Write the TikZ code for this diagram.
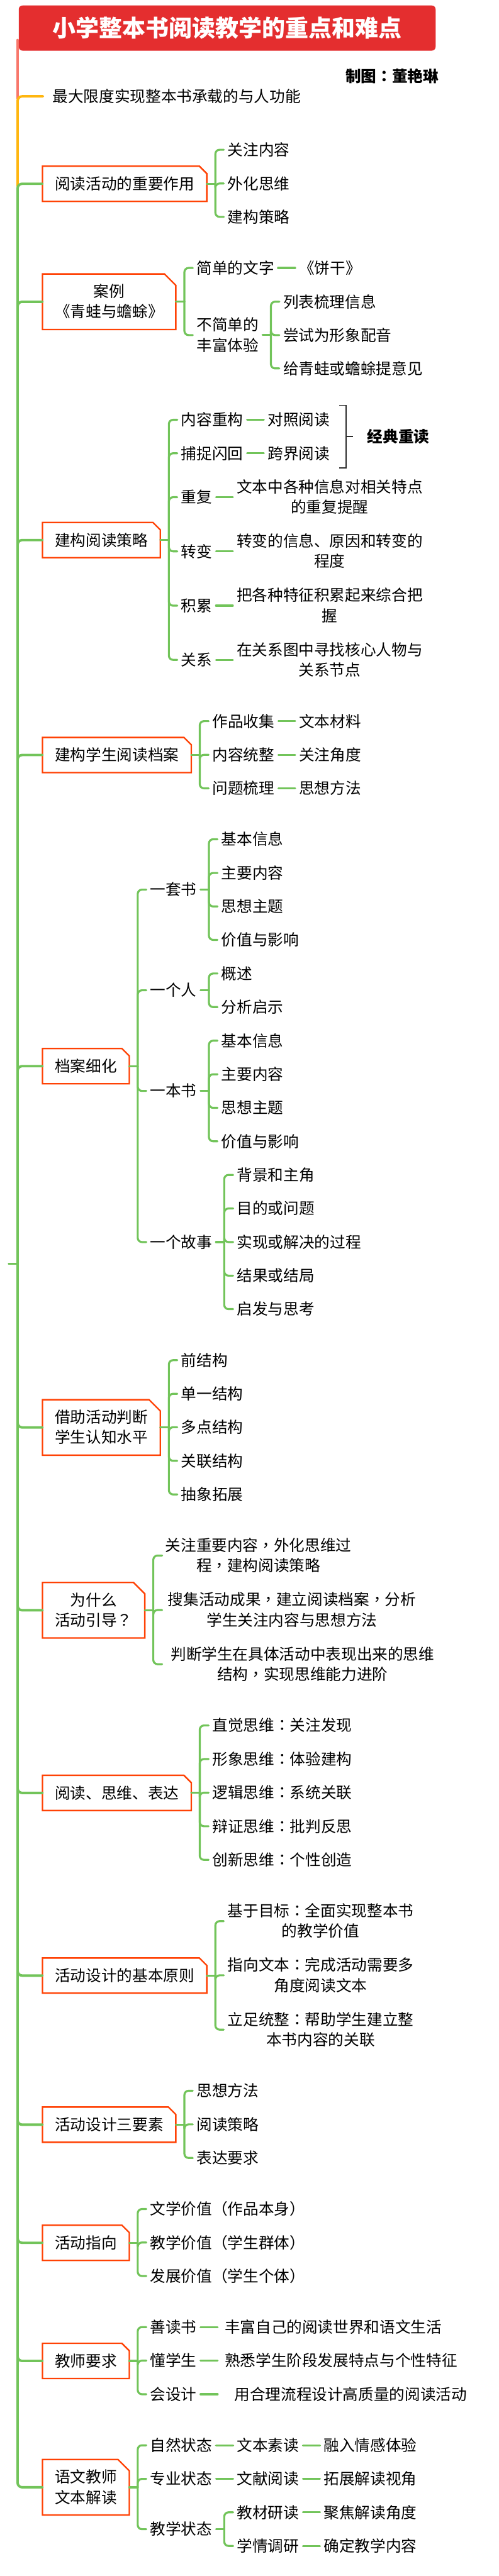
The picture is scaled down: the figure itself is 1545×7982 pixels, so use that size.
\documentclass[tikz,border=0pt]{standalone}
\usepackage{fontspec}
\setmainfont{Noto Sans CJK SC}
\newfontfamily\tcf{Noto Sans CJK TC}
\newcommand\zcolon{{\tcf ^^^^ff1a}}
\newcommand\zcomma{{\tcf ^^^^ff0c}}
\newcommand\zquery{{\tcf ^^^^ff1f}}
\newcommand\zlpar{{\tcf ^^^^ff08}}
\newcommand\zrpar{{\tcf ^^^^ff09}}
\definecolor{salmonline}{HTML}{F8776B}
\definecolor{yellowline}{HTML}{FFB60F}
\definecolor{greenline}{HTML}{72C45A}
\definecolor{boxred}{HTML}{FF4205}
\definecolor{titlered}{HTML}{E42E2F}
\definecolor{sumdark}{HTML}{2D2D2D}
\tikzset{
  centerstrut/.style={execute at begin node={\rule{0pt}{.875em}},execute at end node={\rule[-.115em]{0pt}{.115em}}},
  tn/.style={anchor=west,inner xsep=12pt,inner ysep=0pt,outer sep=0pt,align=center,
    font=\fontsize{48}{63}\selectfont,centerstrut},
  bn/.style={anchor=west,inner sep=0pt,outer sep=0pt,align=center,
    font=\fontsize{48}{63}\selectfont,centerstrut},
  boldtext/.style={inner sep=0pt,outer sep=0pt,align=center,
    font=\bfseries\fontsize{48}{63}\selectfont,centerstrut},
  boxline/.style={draw=boxred,line width=4.6pt,line join=miter},
  trunkline/.style={line width=7.6pt,line cap=round,rounded corners=14pt},
  kidline/.style={draw=greenline,line width=6.2pt,line cap=round,rounded corners=13pt},
  sumline/.style={draw=sumdark,line width=3pt,line join=miter}
}
\newcommand\cutbox[2]{\draw[boxline] (#1.north west) -- ([xshift=-#2pt]#1.north east) -- ([yshift=-#2pt]#1.north east) -- (#1.south east) -- (#1.south west) -- cycle;}
\newcommand\forkto[3]{%
  \coordinate (#2-fork) at (#1,0 |- #2.east);
  \draw[kidline,sharp corners] (#2.east) -- (#2-fork);
  \foreach \kidn in {#3}{\draw[kidline] (#2-fork) |- (\kidn.west);}
}
\newcommand\link[2]{\draw[kidline] (#1.east) -- (#2.west);}
\begin{document}
\begin{tikzpicture}[x=1pt,y=-1pt]
\fill[white] (0,0) rectangle (1545,7982);
\useasboundingbox (0,0) rectangle (1545,7982);

% --- title
\coordinate (t0) at (54.5,124);
\coordinate (t1) at (54.5,305);
\coordinate (y0) at (54.5,577);
\coordinate (hub) at (54.5,3916);
\coordinate (stub) at (28,3916);
\draw[trunkline,draw=salmonline] (t0) -- (t1);
\node[fill=titlered,rounded corners=12pt,minimum width=1291pt,minimum height=140pt,inner sep=0pt,outer sep=0pt,
  text=white,font=\bfseries\fontsize{72}{80}\selectfont,centerstrut] (root) at (703.5,87) {小学整本书阅读教学的重点和难点};
\node[boldtext] (credit) at (1214.5,236.5) {制图\zcolon{}董艳琳};

\node[tn,inner xsep=30pt] (a) at (133,298.5) {最大限度实现整本书承载的与人功能};
\draw[trunkline,draw=yellowline] (y0) |- (a.west);

% --- boxes
\node[bn,minimum width=509pt,minimum height=109pt] (b1) at (131.5,569.5) {阅读活动的重要作用};
\node[bn,minimum width=413pt,minimum height=172pt] (b2) at (131.5,935) {案例\\《青蛙与蟾蜍》};
\node[bn,minimum width=365pt,minimum height=109pt] (b3) at (131.5,1673.5) {建构阅读策略};
\node[bn,minimum width=461pt,minimum height=109pt] (b4) at (131.5,2339.5) {建构学生阅读档案};
\node[bn,minimum width=269pt,minimum height=109pt] (b5) at (131.5,3303.5) {档案细化};
\node[bn,minimum width=365pt,minimum height=172pt] (b6) at (131.5,4423) {借助活动判断\\学生认知水平};
\node[bn,minimum width=317pt,minimum height=172pt] (b7) at (131.5,4989.5) {为什么\\活动引导\zquery{}};
\node[bn,minimum width=461pt,minimum height=109pt] (b8) at (131.5,5555.5) {阅读、思维、表达};
\node[bn,minimum width=509pt,minimum height=109pt] (b9) at (131.5,6121.5) {活动设计的基本原则};
\node[bn,minimum width=413pt,minimum height=109pt] (b10) at (131.5,6583.5) {活动设计三要素};
\node[bn,minimum width=269pt,minimum height=109pt] (b11) at (131.5,6949.5) {活动指向};
\node[bn,minimum width=269pt,minimum height=109pt] (b12) at (131.5,7315.5) {教师要求};
\node[bn,minimum width=269pt,minimum height=172pt] (b13) at (131.5,7707) {语文教师\\文本解读};
\cutbox{b1}{23}\cutbox{b2}{35}\cutbox{b3}{23}\cutbox{b4}{23}\cutbox{b5}{23}\cutbox{b6}{35}\cutbox{b7}{35}
\cutbox{b8}{23}\cutbox{b9}{23}\cutbox{b10}{23}\cutbox{b11}{23}\cutbox{b12}{23}\cutbox{b13}{35}

% --- main trunk
\foreach \bx in {b1,b2,b3,b4,b5,b6,b7,b8,b9,b10,b11,b12,b13}{\draw[trunkline,draw=greenline] (hub) |- (\bx.west);}
\draw[trunkline,draw=greenline] (stub) -- (hub);

% --- b1
\node[tn] (k11) at (693,464) {关注内容};
\node[tn] (k12) at (693,568.6) {外化思维};
\node[tn] (k13) at (693,672) {建构策略};
\forkto{667}{b1}{k11,k12,k13}

% --- b2
\node[tn] (k21) at (597,830.3) {简单的文字};
\node[tn] (k21r) at (914,830.3) {《饼干》};
\link{k21}{k21r}
\node[tn] (k22) at (597,1038.4) {不简单的\\丰富体验};
\forkto{571}{b2}{k21,k22}
\node[tn] (k221) at (865,934.8) {列表梳理信息};
\node[tn] (k222) at (865,1038.4) {尝试为形象配音};
\node[tn] (k223) at (865,1141.6) {给青蛙或蟾蜍提意见};
\forkto{839}{k22}{k221,k222,k223}

% --- b3
\node[tn] (k31) at (549,1300.8) {内容重构};
\node[tn] (k31r) at (817,1300.8) {对照阅读};
\link{k31}{k31r}
\node[tn] (k32) at (549,1404.5) {捕捉闪回};
\node[tn] (k32r) at (817,1404.5) {跨界阅读};
\link{k32}{k32r}
\node[tn] (k33) at (549,1540.6) {重复};
\node[tn] (k33r) at (721,1540.6) {文本中各种信息对相关特点\\的重复提醒};
\link{k33}{k33r}
\node[tn] (k34) at (549,1708.4) {转变};
\node[tn] (k34r) at (721,1708.4) {转变的信息、原因和转变的\\程度};
\link{k34}{k34r}
\node[tn] (k35) at (549,1876.7) {积累};
\node[tn] (k35r) at (721,1876.7) {把各种特征积累起来综合把\\握};
\link{k35}{k35r}
\node[tn] (k36) at (549,2044.6) {关系};
\node[tn] (k36r) at (721,2044.6) {在关系图中寻找核心人物与\\关系节点};
\link{k36}{k36r}
\forkto{523}{b3}{k31,k32,k33,k34,k35,k36}
\coordinate (s0) at (1051,1256);
\coordinate (s1) at (1072,1256);
\coordinate (s2) at (1072,1449.5);
\coordinate (s3) at (1051,1449.5);
\coordinate (s4) at (1072,1352.4);
\node[boldtext,anchor=west,inner xsep=45pt] (sumtext) at (1093,1352.4) {经典重读};
\draw[sumline] (s0) -- (s1) -- (s2) -- (s3);
\draw[sumline] (s4) -- (sumtext.west);

% --- b4
\node[tn] (k41) at (646,2234.5) {作品收集};
\node[tn] (k41r) at (914,2234.5) {文本材料};
\link{k41}{k41r}
\node[tn] (k42) at (646,2339) {内容统整};
\node[tn] (k42r) at (914,2339) {关注角度};
\link{k42}{k42r}
\node[tn] (k43) at (646,2442.7) {问题梳理};
\node[tn] (k43r) at (914,2442.7) {思想方法};
\link{k43}{k43r}
\forkto{618.6}{b4}{k41,k42,k43}

% --- b5
\node[tn] (k51) at (453,2756.7) {一套书};
\node[tn] (k52) at (453,3068.5) {一个人};
\node[tn] (k53) at (453,3380.3) {一本书};
\node[tn] (k54) at (453,3848.6) {一个故事};
\forkto{426.5}{b5}{k51,k52,k53,k54}
\node[tn] (k511) at (673.5,2600.5) {基本信息};
\node[tn] (k512) at (673.5,2705) {主要内容};
\node[tn] (k513) at (673.5,2808.7) {思想主题};
\node[tn] (k514) at (673.5,2912.3) {价值与影响};
\forkto{647}{k51}{k511,k512,k513,k514}
\node[tn] (k521) at (673.5,3016.4) {概述};
\node[tn] (k522) at (673.5,3120.5) {分析启示};
\forkto{647}{k52}{k521,k522}
\node[tn] (k531) at (673.5,3224.6) {基本信息};
\node[tn] (k532) at (673.5,3328.7) {主要内容};
\node[tn] (k533) at (673.5,3432.8) {思想主题};
\node[tn] (k534) at (673.5,3536.4) {价值与影响};
\forkto{647}{k53}{k531,k532,k533,k534}
\node[tn] (k541) at (722,3640.5) {背景和主角};
\node[tn] (k542) at (722,3744.6) {目的或问题};
\node[tn] (k543) at (722,3848.6) {实现或解决的过程};
\node[tn] (k544) at (722,3952.7) {结果或结局};
\node[tn] (k545) at (722,4056.4) {启发与思考};
\forkto{694.5}{k54}{k541,k542,k543,k544,k545}

% --- b6
\node[tn] (k61) at (549,4214.6) {前结构};
\node[tn] (k62) at (549,4318.7) {单一结构};
\node[tn] (k63) at (549,4422.4) {多点结构};
\node[tn] (k64) at (549,4526.5) {关联结构};
\node[tn] (k65) at (549,4630.6) {抽象拓展};
\forkto{523}{b6}{k61,k62,k63,k64,k65}

% --- b7
\node[tn,inner xsep=10pt] (k71) at (502,4820) {关注重要内容\zcomma{}外化思维过\\程\zcomma{}建构阅读策略};
\node[tn,inner xsep=18pt] (k72) at (502,4988.8) {搜集活动成果\zcomma{}建立阅读档案\zcomma{}分析\\学生关注内容与思想方法};
\node[tn,inner xsep=27pt] (k73) at (502,5156.6) {判断学生在具体活动中表现出来的思维\\结构\zcomma{}实现思维能力进阶};
\forkto{474.8}{b7}{k71,k72,k73}

% --- b8
\node[tn] (k81) at (646,5346.5) {直觉思维\zcolon{}关注发现};
\node[tn] (k82) at (646,5450.6) {形象思维\zcolon{}体验建构};
\node[tn] (k83) at (646,5554.7) {逻辑思维\zcolon{}系统关联};
\node[tn] (k84) at (646,5658.8) {辩证思维\zcolon{}批判反思};
\node[tn] (k85) at (646,5762.9) {创新思维\zcolon{}个性创造};
\forkto{618.6}{b8}{k81,k82,k83,k84,k85}

% --- b9
\node[tn] (k91) at (693,5952.8) {基于目标\zcolon{}全面实现整本书\\的教学价值};
\node[tn] (k92) at (693,6120.7) {指向文本\zcolon{}完成活动需要多\\角度阅读文本};
\node[tn] (k93) at (693,6288.9) {立足统整\zcolon{}帮助学生建立整\\本书内容的关联};
\forkto{667}{b9}{k91,k92,k93}

% --- b10
\node[tn] (k101) at (597,6478.4) {思想方法};
\node[tn] (k102) at (597,6582.5) {阅读策略};
\node[tn] (k103) at (597,6686.6) {表达要求};
\forkto{571}{b10}{k101,k102,k103}

% --- b11
\node[tn] (k111) at (453,6844.9) {文学价值\zlpar{}作品本身\zrpar{}};
\node[tn] (k112) at (453,6948.6) {教学价值\zlpar{}学生群体\zrpar{}};
\node[tn] (k113) at (453,7052.4) {发展价值\zlpar{}学生个体\zrpar{}};
\forkto{426.5}{b11}{k111,k112,k113}

% --- b12
\node[tn] (k121) at (453,7210.6) {善读书};
\node[tn,inner xsep=22pt] (k121r) at (674,7210.6) {丰富自己的阅读世界和语文生活};
\link{k121}{k121r}
\node[tn] (k122) at (453,7314.5) {懂学生};
\node[tn,inner xsep=22pt] (k122r) at (674,7314.5) {熟悉学生阶段发展特点与个性特征};
\link{k122}{k122r}
\node[tn] (k123) at (453,7418.7) {会设计};
\node[tn,inner xsep=52pt] (k123r) at (674,7418.7) {用合理流程设计高质量的阅读活动};
\link{k123}{k123r}
\forkto{426.5}{b12}{k121,k122,k123}

% --- b13
\node[tn] (k131) at (453,7576.9) {自然状态};
\node[tn] (k131a) at (722,7576.9) {文本素读};
\node[tn] (k131b) at (991,7576.9) {融入情感体验};
\link{k131}{k131a}\link{k131a}{k131b}
\node[tn] (k132) at (453,7681) {专业状态};
\node[tn] (k132a) at (722,7681) {文献阅读};
\node[tn] (k132b) at (991,7681) {拓展解读视角};
\link{k132}{k132a}\link{k132a}{k132b}
\node[tn] (k133) at (453,7836.9) {教学状态};
\node[tn] (k1331) at (722,7784.7) {教材研读};
\node[tn] (k1331r) at (991,7784.7) {聚焦解读角度};
\link{k1331}{k1331r}
\node[tn] (k1332) at (722,7888.7) {学情调研};
\node[tn] (k1332r) at (991,7888.7) {确定教学内容};
\link{k1332}{k1332r}
\forkto{426.5}{b13}{k131,k132,k133}
\forkto{694.5}{k133}{k1331,k1332}
\end{tikzpicture}
\end{document}
